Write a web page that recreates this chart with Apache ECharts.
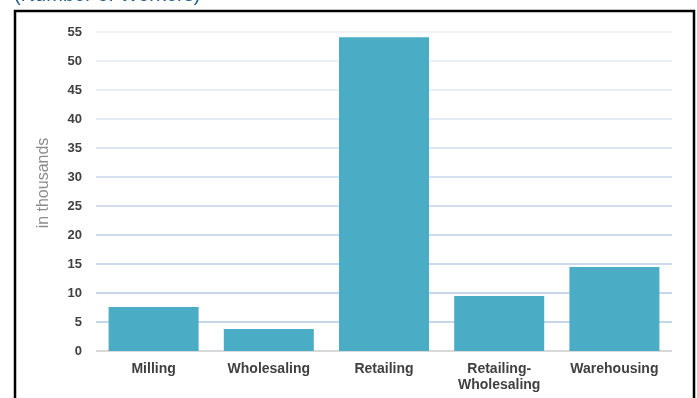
<!DOCTYPE html>
<html>
<head>
<meta charset="utf-8">
<script src="https://cdn.jsdelivr.net/npm/echarts@6/dist/echarts.min.js"></script>
<style>
  html, body { margin: 0; padding: 0; background: #fff; }
  #chart { width: 697px; height: 398px; }
</style>
</head>
<body>
<div id="chart"></div>
<script>
(function(){
  'use strict';

  const categories = ['Milling', 'Wholesaling', 'Retailing', 'Retailing-\nWholesaling', 'Warehousing'];
  const values = [7.6, 3.8, 54.1, 9.5, 14.5];
  const yTicks = { min: 0, max: 55, interval: 5 };

  // grid lines get lighter toward the top
  const gridColors = ['#d9d9d9', '#c6d6ea', '#c8d7eb', '#cad9ec', '#cddbed', '#d2deef',
    '#d7e2f1', '#dce6f3', '#e2eaf5', '#e7eef7', '#ecf1f9', '#f1f5fb'];

  const font = '"Liberation Sans", Arial';

  const chart = echarts.init(document.getElementById('chart'));
  chart.setOption({
    animation: false,
    grid: { left: 96, right: 25, top: 32, bottom: 47 },
    graphic: [
      {
        type: 'text', left: 14, top: -15,
        style: { text: '(Number of Workers)', fill: '#1f5f8b', font: '20px ' + font }
      },
      {
        type: 'rect', shape: { x: 15, y: 11, width: 679, height: 400 },
        style: { fill: 'none', stroke: '#000', lineWidth: 2.5 }
      },
      {
        type: 'text', x: 44, y: 183, rotation: Math.PI / 2,
        style: {
          text: 'in thousands', fill: '#8c8c8c', font: '16px ' + font,
          align: 'center', verticalAlign: 'middle'
        }
      }
    ],
    xAxis: {
      type: 'category',
      data: categories,
      axisTick: { show: false },
      axisLine: { show: false },
      axisLabel: {
        color: '#404040', fontSize: 14, fontWeight: 'bold', margin: 10, lineHeight: 16,
        fontFamily: font
      }
    },
    yAxis: {
      type: 'value',
      min: yTicks.min, max: yTicks.max, interval: yTicks.interval,
      axisLabel: {
        color: '#404040', fontSize: 13, fontWeight: 'bold', margin: 14,
        fontFamily: font
      },
      splitLine: { lineStyle: { color: gridColors, width: 2 } }
    },
    series: [{
      type: 'bar',
      data: values,
      barWidth: 90,
      itemStyle: { color: '#4BACC6' }
    }]
  });
})();
</script>
</body>
</html>
